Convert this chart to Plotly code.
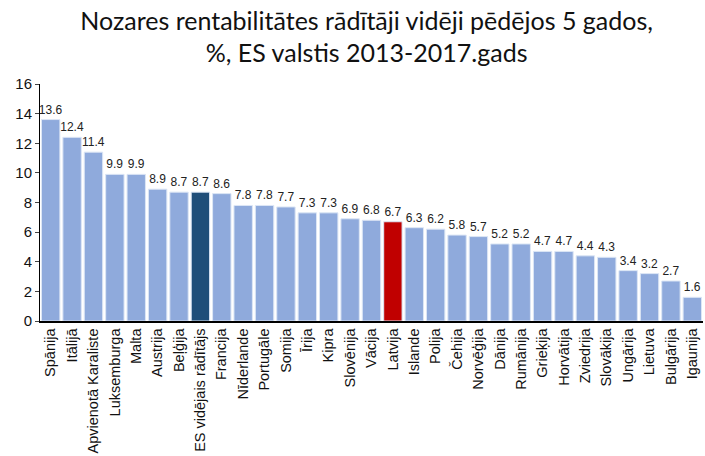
import plotly.graph_objects as go

countries = [
    "Spānija", "Itālijā", "Apvienotā Karaliste", "Luksemburga", "Malta", "Austrija",
    "Beļģija", "ES vidējais rādītājs", "Francija", "Nīderlande", "Portugāle", "Somija",
    "Īrija", "Kipra", "Slovēnija", "Vācija", "Latvija", "Islande", "Polija", "Čehija",
    "Norvēģija", "Dānija", "Rumānija", "Grieķija", "Horvātija", "Zviedrija", "Slovākija",
    "Ungārija", "Lietuva", "Bulgārija", "Igaunija",
]
values = [
    13.6, 12.4, 11.4, 9.9, 9.9, 8.9, 8.7, 8.7, 8.6, 7.8, 7.8, 7.7, 7.3, 7.3, 6.9, 6.8,
    6.7, 6.3, 6.2, 5.8, 5.7, 5.2, 5.2, 4.7, 4.7, 4.4, 4.3, 3.4, 3.2, 2.7, 1.6,
]
y_ticks = [0, 2, 4, 6, 8, 10, 12, 14, 16]

colors = []
for c in countries:
    if c == "ES vidējais rādītājs":
        colors.append("#1F4E79")
    elif c == "Latvija":
        colors.append("#C00000")
    else:
        colors.append("#8FAADC")

fig = go.Figure(
    go.Bar(
        x=countries,
        y=values,
        marker=dict(color=colors, line=dict(color="#DCE6F5", width=1)),
        text=[f"{v:.1f}" for v in values],
        textposition="outside",
        constraintext="none",
        textfont=dict(family="Liberation Sans", size=12, color="#222222"),
        cliponaxis=False,
    )
)

fig.update_layout(
    title=dict(
        text="Nozares rentabilitātes rādītāji vidēji pēdējos 5 gados,<br>%, ES valstis 2013-2017.gads",
        x=0.52,
        xanchor="center",
        yref="container",
        y=0.935,
        yanchor="middle",
        font=dict(family="Lato", size=25, color="#111111"),
    ),
    width=705,
    height=456,
    margin=dict(l=40, r=2, t=84, b=135, autoexpand=False),
    plot_bgcolor="white",
    paper_bgcolor="white",
    bargap=0.14,
    showlegend=False,
    font=dict(family="Liberation Sans", color="#111111"),
)

fig.update_xaxes(
    tickangle=-90,
    tickfont=dict(family="Liberation Sans", size=14.5, color="#111111"),
    showline=True,
    linecolor="black",
    linewidth=1.5,
    ticks="",
    automargin=False,
)
fig.update_yaxes(
    range=[0, 16],
    tickvals=y_ticks,
    tickfont=dict(family="Liberation Sans", size=15, color="#111111"),
    showline=True,
    linecolor="black",
    linewidth=1,
    ticks="outside",
    ticklen=4,
    showgrid=False,
    zeroline=False,
    automargin=False,
)

# page body has a default margin; drop it so the figure fills the window
fig.write_html(
    "out.html",
    config={"displayModeBar": False},
    post_script="document.body.style.margin='0';",
)
